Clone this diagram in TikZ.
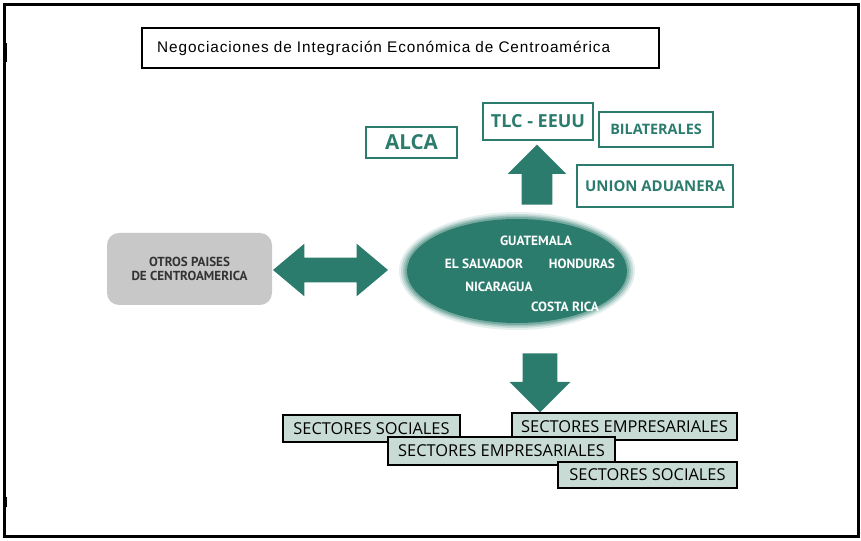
\documentclass[tikz,border=0pt]{standalone}
\usepackage{fontspec}
\setmainfont{Liberation Sans}
\newfontfamily\titlefont[LetterSpace=6]{Liberation Sans}
\newfontfamily\tradefont{Open Sans}
\newfontfamily\countryfont{PT Sans}
\usetikzlibrary{shapes.geometric,shapes.arrows}

\definecolor{tealgreen}{RGB}{44,124,110}
\definecolor{boxgray}{RGB}{200,200,200}
\definecolor{sectorfill}{RGB}{200,219,212}

\begin{document}
\begin{tikzpicture}[x=0.75pt,y=0.75pt,yscale=-1,xscale=1,
    tradebox/.style={draw=tealgreen, line width=0.9pt, text=tealgreen, font=\tradefont\bfseries, inner sep=0pt},
    sectorbox/.style={draw=black, line width=1.2pt, fill=sectorfill, font=\tradefont\fontsize{12.3}{14}\selectfont, inner sep=0pt},
    country/.style={text=white, font=\countryfont\bfseries\fontsize{10}{12}\selectfont, inner sep=0pt},
    fatarrow/.style={fill=tealgreen, inner xsep=0pt}
  ]
  \useasboundingbox (0,0) rectangle (861,541);

  %Shape: Frame
  \draw [line width=2.25pt] (4,5) rectangle (858,537);
  \fill (3,43) rectangle (7,62);
  \fill (3,497) rectangle (7,507);

  % Title
  \node (title) [draw, line width=1.1pt, text width=365pt, inner xsep=11.25pt, minimum height=30pt, align=left, font=\titlefont\fontsize{11.5}{13}\selectfont] at (400.5,48) {Negociaciones de Integración Económica de Centroamérica};

  % Trade agreements
  \node (alca) [tradebox, minimum width=68.25pt, minimum height=23.25pt, font=\tradefont\bfseries\fontsize{15.5}{17}\selectfont] at (411.5,142.5) {ALCA};
  \node (tlc) [tradebox, minimum width=82.5pt, minimum height=27.75pt, font=\tradefont\bfseries\fontsize{13.5}{15}\selectfont] at (538,121.5) {TLC - EEUU};
  \node (bilat) [tradebox, minimum width=85.5pt, minimum height=26.25pt, font=\tradefont\bfseries\fontsize{10.8}{12}\selectfont] at (656,129.5) {BILATERALES};
  \node (union) [tradebox, minimum width=117pt, minimum height=31.5pt, font=\tradefont\bfseries\fontsize{11.2}{13}\selectfont] at (655,186) {UNION ADUANERA};

  % Other countries
  \node (otros) [fill=boxgray, rounded corners=9pt, minimum width=123.75pt, minimum height=54pt, align=center, text=black!80, font=\countryfont\bfseries\fontsize{9.8}{10.5}\selectfont] at (189.5,269) {OTROS PAISES\\DE CENTROAMERICA};

  %Shape: Ellipse with soft edge
  \fill [tealgreen, opacity=0.12] (517,271) ellipse [x radius=118, y radius=59];
  \fill [tealgreen, opacity=0.18] (517,271) ellipse [x radius=116, y radius=57];
  \fill [tealgreen, opacity=0.25] (517,271) ellipse [x radius=114, y radius=55.5];
  \fill [tealgreen, opacity=0.35] (517,271) ellipse [x radius=112, y radius=54];
  \node (ctry) [ellipse, fill=tealgreen, minimum width=165pt, minimum height=78pt] at (517,271) {};

  % Text Node
  \node (gua) [country] at (536,241) {GUATEMALA};
  \node (sal) [country] at (484,264) {EL SALVADOR};
  \node (hon) [country] at (582,264) {HONDURAS};
  \node (nic) [country] at (499,287) {NICARAGUA};
  \node (cri) [country] at (565,307) {COSTA RICA};

  % Block arrows
  \node (uparrow) [fatarrow, single arrow, rotate=90, anchor=tail, minimum height=45pt, inner ysep=11.25pt, single arrow head extend=10.5pt] at (537,205) {};
  \node (sidearrow) [fatarrow, double arrow, minimum height=86.25pt, inner ysep=9pt, double arrow head extend=10.5pt, double arrow tip angle=80] at (330.5,270) {};
  \node (downarrow) [fatarrow, single arrow, rotate=-90, anchor=tail, minimum height=44.25pt, inner ysep=12.75pt, single arrow head extend=9.75pt] at (540,353) {};

  % Sectors
  \node (soc1) [sectorbox, minimum width=132.75pt, minimum height=20.25pt] at (371.5,428.5) {SECTORES SOCIALES};
  \node (emp1) [sectorbox, minimum width=168.75pt, minimum height=20.25pt] at (624.5,426.5) {SECTORES EMPRESARIALES};
  \node (emp2) [sectorbox, minimum width=170.25pt, minimum height=21pt] at (501.5,451) {SECTORES EMPRESARIALES};
  \node (soc2) [sectorbox, minimum width=134.25pt, minimum height=19.5pt] at (647.5,475) {SECTORES SOCIALES};
\end{tikzpicture}
\end{document}
